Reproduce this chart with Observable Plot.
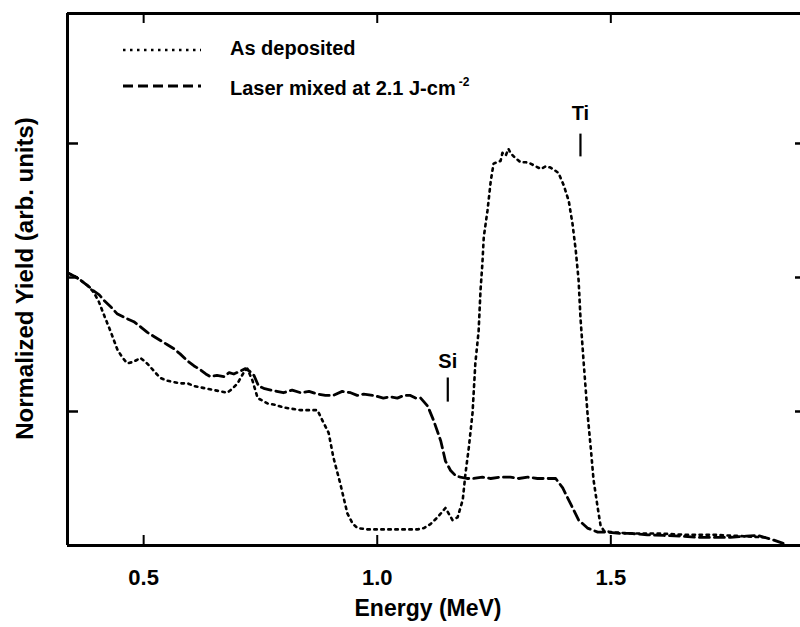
<!DOCTYPE html>
<html><head><meta charset="utf-8">
<script src="https://cdn.jsdelivr.net/npm/d3@7"></script>
<script src="https://cdn.jsdelivr.net/npm/@observablehq/plot@0.6"></script>
<style>
body{margin:0;background:#fff;}
#wrap{position:relative;width:800px;height:627px;overflow:hidden;font-family:"Liberation Sans",Arial,Helvetica,sans-serif;}
#legend{position:absolute;left:0;top:0;}
</style></head><body><div id="wrap"></div>
<script>
// ---- data ----
const xTicks = [0.5, 1.0, 1.5];
const yTicks = [1, 2, 3];
const xDomain = [0.337, 1.906];
const yDomain = [0, 3.97];
const xTitle = "Energy (MeV)";
const yTitle = "Normalized Yield (arb. units)";
const seriesNames = ["As deposited", "Laser mixed at 2.1 J-cm"];
const seriesSup = ["", "-2"];

const asDepE = [0.340,0.352,0.365,0.380,0.393,0.404,0.414,0.429,0.444,0.455,
0.465,0.478,0.493,0.504,0.515,0.525,0.536,0.550,0.564,0.579,
0.594,0.608,0.622,0.636,0.650,0.665,0.679,0.690,0.701,0.714,
0.722,0.733,0.744,0.755,0.765,0.782,0.799,0.818,0.836,0.854,
0.872,0.883,0.896,0.906,0.921,0.936,0.948,0.958,0.979,1.000,
1.013,1.030,1.050,1.068,1.086,1.100,1.114,1.129,1.146,1.161,
1.172,1.183,1.189,1.196,1.204,1.210,1.217,1.221,1.225,1.228,
1.236,1.243,1.249,1.256,1.264,1.268,1.275,1.281,1.285,1.296,
1.307,1.318,1.328,1.339,1.350,1.361,1.371,1.380,1.388,1.399,
1.410,1.418,1.425,1.431,1.435,1.442,1.450,1.457,1.463,1.472,
1.478,1.485,1.500,1.540,1.600,1.660,1.720,1.780,1.830];
const asDepY = [2.03,2.01,1.98,1.94,1.89,1.82,1.73,1.60,1.46,1.40,
1.36,1.37,1.40,1.37,1.33,1.29,1.25,1.23,1.22,1.21,
1.21,1.19,1.18,1.17,1.16,1.15,1.14,1.17,1.21,1.29,
1.32,1.23,1.10,1.08,1.06,1.05,1.03,1.02,1.01,1.01,
1.01,0.93,0.84,0.66,0.46,0.24,0.16,0.13,0.12,0.12,
0.12,0.12,0.12,0.12,0.12,0.13,0.16,0.21,0.28,0.19,
0.21,0.34,0.54,0.73,0.99,1.36,1.60,1.90,2.10,2.30,
2.50,2.72,2.85,2.86,2.87,2.93,2.91,2.96,2.93,2.89,
2.86,2.86,2.85,2.83,2.81,2.83,2.82,2.80,2.78,2.69,
2.57,2.40,2.20,1.98,1.70,1.36,0.99,0.73,0.49,0.28,
0.15,0.11,0.10,0.09,0.09,0.08,0.08,0.07,0.06];

const laserE = [0.340,0.352,0.365,0.380,0.393,0.405,0.415,0.430,0.443,0.460,
0.479,0.494,0.508,0.522,0.536,0.550,0.564,0.578,0.593,0.608,
0.622,0.633,0.643,0.657,0.672,0.683,0.693,0.706,0.718,0.727,
0.736,0.746,0.759,0.772,0.785,0.799,0.818,0.836,0.854,0.872,
0.889,0.906,0.925,0.943,0.957,0.971,0.992,1.013,1.028,1.043,
1.057,1.071,1.082,1.093,1.108,1.121,1.136,1.146,1.157,1.168,
1.178,1.192,1.206,1.225,1.243,1.264,1.285,1.303,1.322,1.343,
1.365,1.382,1.397,1.414,1.431,1.450,1.472,1.493,1.520,1.542,
1.578,1.613,1.650,1.686,1.720,1.756,1.790,1.815,1.849,1.870];
const laserY = [2.03,2.01,1.98,1.94,1.90,1.87,1.83,1.78,1.73,1.70,
1.67,1.63,1.59,1.56,1.53,1.50,1.47,1.43,1.38,1.34,
1.31,1.28,1.26,1.27,1.26,1.29,1.28,1.30,1.32,1.30,
1.27,1.19,1.17,1.16,1.15,1.14,1.16,1.14,1.15,1.13,
1.12,1.12,1.15,1.14,1.12,1.13,1.12,1.10,1.11,1.10,
1.12,1.12,1.10,1.10,1.04,0.93,0.78,0.63,0.56,0.52,
0.51,0.50,0.50,0.51,0.50,0.51,0.51,0.50,0.51,0.50,
0.50,0.50,0.43,0.31,0.19,0.13,0.10,0.10,0.09,0.09,
0.08,0.075,0.07,0.06,0.06,0.06,0.07,0.075,0.04,0.015];

const markerLabels = ["Si", "Ti"];
const markerE = [1.151, 1.435];
const markerTextY = [1.37, 3.22];
const markerLineY1 = [1.07, 2.90];
const markerLineY2 = [1.25, 3.07];

// ---- build ----
const W = 800, H = 627, mL = 67, mR = 0, mT = 13, mB = 82;
const plotW = W - mL - mR, plotH = H - mT - mB;
const FONT = '"Liberation Sans", Arial, Helvetica, sans-serif';
const dotDash = "2.5,4.5", longDash = "10,5";

const asDep = asDepE.map((e, i) => ({e, y: asDepY[i]}));
const laser = laserE.map((e, i) => ({e, y: laserY[i]}));
const markers = markerLabels.map((label, i) => ({label, e: markerE[i], ty: markerTextY[i], y1: markerLineY1[i], y2: markerLineY2[i]}));

const chart = Plot.plot({
  width: W, height: H,
  marginLeft: mL, marginRight: mR, marginTop: mT, marginBottom: mB,
  x: {domain: xDomain},
  y: {domain: yDomain, axis: null},
  style: {fontFamily: FONT, background: "white", color: "black", overflow: "visible"},
  marks: [
    Plot.line(asDep, {x: "e", y: "y", stroke: "black", strokeWidth: 2.6, strokeDasharray: dotDash}),
    Plot.line(laser, {x: "e", y: "y", stroke: "black", strokeWidth: 2.8, strokeDasharray: longDash}),
    Plot.ruleY([yDomain[0]], {stroke: "black", strokeWidth: 3}),
    Plot.ruleY([yDomain[1]], {stroke: "black", strokeWidth: 3}),
    Plot.ruleX([xDomain[0]], {stroke: "black", strokeWidth: 3}),
    Plot.ruleX(xTicks, {stroke: "black", strokeWidth: 2, insetTop: plotH - 10}),
    Plot.ruleX(xTicks, {stroke: "black", strokeWidth: 2, insetBottom: plotH - 10}),
    Plot.ruleY(yTicks, {stroke: "black", strokeWidth: 2.5, insetRight: plotW - 11}),
    Plot.ruleY(yTicks, {stroke: "black", strokeWidth: 2.5, insetLeft: plotW - 5}),
    Plot.axisX(xTicks, {tickSize: 0, tickPadding: 24, label: null, tickFormat: d => d.toFixed(1), fontSize: 22, fontWeight: "bold"}),
    Plot.text([xTitle], {text: d => d, frameAnchor: "bottom", dx: -6, dy: 70, fontSize: 23, fontWeight: "bold"}),
    Plot.text([yTitle], {text: d => d, frameAnchor: "left", textAnchor: "middle", rotate: -90, dx: -42, dy: -1, fontSize: 24, fontWeight: "bold"}),
    Plot.text(markers, {x: "e", y: "ty", text: "label", fontSize: 20, fontWeight: "bold"}),
    Plot.ruleX(markers, {x: "e", y1: "y1", y2: "y2", stroke: "black", strokeWidth: 2.2})
  ]
});
const wrap = document.getElementById("wrap");
wrap.appendChild(chart);

// ---- legend (overlay) ----
const leg = d3.select(wrap).append("svg").attr("id", "legend").attr("width", W).attr("height", 120)
  .style("font-family", FONT);
const legRows = [
  {name: seriesNames[0], sup: seriesSup[0], dash: dotDash, sw: 2.6, y: 50, ty: 48},
  {name: seriesNames[1], sup: seriesSup[1], dash: longDash, sw: 2.8, y: 86, ty: 88}
];
legRows.forEach(r => {
  leg.append("line").attr("x1", 123).attr("x2", 201).attr("y1", r.y).attr("y2", r.y)
    .attr("stroke", "black").attr("stroke-width", r.sw).attr("stroke-dasharray", r.dash);
  const t = leg.append("text").attr("x", 230).attr("y", r.ty).attr("dy", "0.36em")
    .attr("font-size", 20).attr("font-weight", "bold").text(r.name);
  if (r.sup) t.append("tspan").attr("dx", 3).attr("dy", -9).attr("font-size", 12).text(r.sup);
});
</script></body></html>
